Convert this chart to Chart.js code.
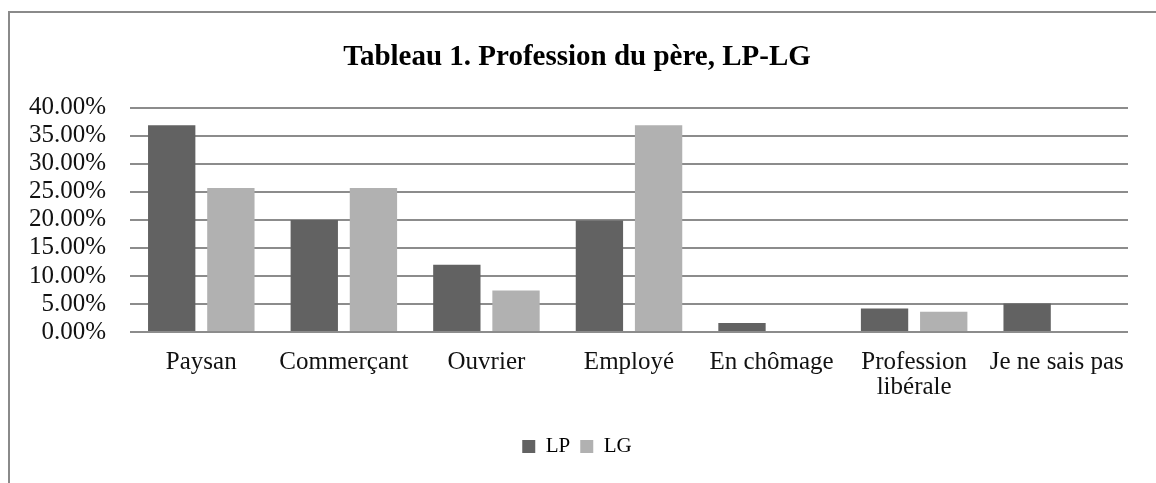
<!DOCTYPE html>
<html>
<head>
<meta charset="utf-8">
<title>Tableau 1. Profession du père, LP-LG</title>
<script src="https://cdn.jsdelivr.net/npm/chart.js@4/dist/chart.umd.min.js"></script>
<style>
    body { margin: 0; background: #ffffff; overflow: hidden; }
    #frame {
        position: absolute; left: 8px; top: 11px;
        width: 1300px; height: 600px;
        border: 2px solid #8a8a8a;
    }
    #chart_Display { position: absolute; left: 0; top: 0; }
</style>
</head>
<body>
<div id="frame"></div>
<canvas id="chart_Display" width="1156" height="483"></canvas>
<script>
//Categories and values (percent)
var categories = ["Paysan", "Commerçant", "Ouvrier", "Employé", "En chômage", ["Profession", "libérale"], "Je ne sais pas"];
var lp_Values = [36.9, 20.0, 12.0, 19.9, 1.6, 4.2, 5.1];
var lg_Values = [25.7, 25.7, 7.4, 36.9, 0, 3.6, 0];
var y_Ticks = [0, 5, 10, 15, 20, 25, 30, 35, 40];

var serif = "'Liberation Serif', 'Times New Roman', serif";

var canvasP = document.getElementById("chart_Display");
var ctxP = canvasP.getContext('2d');

var profession_Chart = new Chart(ctxP, {
    type: 'bar',
    data: {
        labels: categories,
        datasets: [{
            label: "LP",
            data: lp_Values,
            backgroundColor: "#626262"
        }, {
            label: "LG",
            data: lg_Values,
            backgroundColor: "#b1b1b1"
        }]
    },
    options: {
        responsive: false,
        animation: false,
        devicePixelRatio: 1,
        categoryPercentage: 0.83,
        barPercentage: 0.8,
        layout: {
            // same padding left and right so title and legend sit in the middle
            padding: { top: 20, left: 26, right: 28, bottom: 16 }
        },
        plugins: {
            title: {
                display: true,
                text: "Tableau 1. Profession du père, LP-LG",
                color: "#000000",
                font: { family: serif, size: 29, weight: 'bold', lineHeight: 1.2 },
                padding: { top: 20, bottom: 33 }
            },
            legend: {
                display: true,
                position: 'bottom',
                labels: {
                    color: "#000000",
                    boxWidth: 13,
                    boxHeight: 13,
                    padding: 10,
                    font: { family: serif, size: 21 }
                }
            },
            tooltip: { enabled: false }
        },
        scales: {
            x: {
                grid: { display: false, drawTicks: false },
                border: { display: false },
                ticks: {
                    color: "#111111",
                    autoSkip: false,
                    maxRotation: 0,
                    padding: 18,
                    font: { family: serif, size: 25, lineHeight: 1 }
                },
                afterFit: function (scale) {
                    scale.height = 94;
                }
            },
            y: {
                min: 0,
                max: 40,
                grid: { color: "#8c8c8c", lineWidth: 2, drawTicks: false },
                border: { display: false },
                afterBuildTicks: function (scale) {
                    scale.ticks = y_Ticks.map(function (v) { return { value: v }; });
                },
                ticks: {
                    color: "#111111",
                    autoSkip: false,
                    padding: 24,
                    font: { family: serif, size: 25, lineHeight: 1 },
                    callback: function (value) {
                        return value.toFixed(2) + "%";
                    }
                },
                afterFit: function (scale) {
                    scale.width = 104;
                }
            }
        }
    }
});
</script>
</body>
</html>
